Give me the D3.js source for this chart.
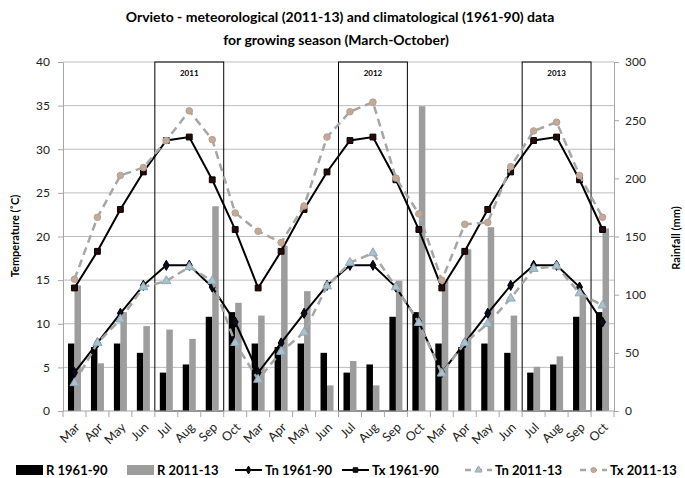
<!DOCTYPE html>
<html>
<head>
<meta charset="utf-8">
<script src="https://cdn.jsdelivr.net/npm/d3@7"></script>
<style>
  body { margin: 0; background: #fff; }
  text { font-family: Lato, "Open Sans", sans-serif; }
</style>
</head>
<body>
<div id="chart"></div>
<script>
// months of the growing season, repeated for each year
var months = ["Mar", "Apr", "May", "Jun", "Jul", "Aug", "Sep", "Oct"];
var years = ["2011", "2012", "2013"];

// rainfall (mm)
var rain6190 = [58, 55, 58, 50, 33, 40, 81, 85];
var rain1113 = [108, 41, 85, 73, 70, 62, 176, 93,
                82, 142, 103, 22, 43, 22, 112, 262,
                112, 139, 158, 82, 38, 47, 100, 157];

// temperature (°C)
var tn6190 = [4.4, 7.8, 11.2, 14.4, 16.7, 16.7, 14.2, 10.2];
var tx6190 = [14.1, 18.3, 23.1, 27.4, 31.0, 31.4, 26.5, 20.8];
var tn1113 = [3.2, 7.8, 10.5, 14.2, 14.9, 16.5, 14.9, 7.8,
              3.6, 6.8, 9.0, 14.3, 17.0, 18.1, 14.2, 10.1,
              4.3, 7.8, 10.0, 12.9, 16.3, 16.6, 13.5, 12.1];
var tx1113 = [15.1, 22.2, 27.0, 27.9, 31.0, 34.4, 31.1, 22.7,
              20.6, 19.3, 23.5, 31.4, 34.3, 35.4, 26.7, 22.6,
              15.0, 21.4, 21.6, 28.0, 32.1, 33.1, 27.0, 22.2];

var tempTicks = [0, 5, 10, 15, 20, 25, 30, 35, 40];
var rainTicks = [0, 50, 100, 150, 200, 250, 300];

// build the 24 rows
var rows = [];
years.forEach(function (yr, k) {
	months.forEach(function (m, j) {
		var i = k * 8 + j;
		rows.push({
			i: i, year: yr, month: m,
			r6190: rain6190[j], r1113: rain1113[i],
			tn6190: tn6190[j], tx6190: tx6190[j],
			tn1113: tn1113[i], tx1113: tx1113[i]
		});
	});
});

var W = 685, H = 478;
var pL = 63, pR = 614, pT = 62, pB = 411;

var svg = d3.select("#chart").append("svg")
	.attr("width", W)
	.attr("height", H);

var x = d3.scaleBand()
	.domain(rows.map(function (d) { return d.i; }))
	.range([pL, pR]);

var xSub = d3.scaleBand()
	.domain(["r6190", "r1113"])
	.range([0, 13]);

var yT = d3.scaleLinear().domain([0, 40]).range([pB, pT]);
var yR = d3.scaleLinear().domain([0, 300]).range([pB, pT]);

// title
svg.append("text")
	.attr("x", 340).attr("y", 22)
	.attr("text-anchor", "middle")
	.style("font-size", "14px").style("font-weight", "bold")
	.text("Orvieto - meteorological (2011-13)  and climatological (1961-90) data");
svg.append("text")
	.attr("x", 336).attr("y", 45)
	.attr("text-anchor", "middle")
	.style("font-size", "14px").style("font-weight", "bold")
	.text("for growing season (March-October)");

// gridlines
svg.append("g")
	.selectAll("line")
	.data(tempTicks.slice(1))
	.enter().append("line")
	.attr("x1", pL).attr("x2", pR)
	.attr("y1", function (d) { return yT(d); })
	.attr("y2", function (d) { return yT(d); })
	.style("stroke", "#bdbdbd")
	.style("stroke-width", 1);

// left axis
var axL = svg.append("g")
	.attr("transform", "translate(" + pL + ",0)")
	.call(d3.axisLeft(yT).tickValues(tempTicks).tickSize(5).tickSizeOuter(0).tickPadding(8));
// right axis
var axR = svg.append("g")
	.attr("transform", "translate(" + pR + ",0)")
	.call(d3.axisRight(yR).tickValues(rainTicks).tickSize(5).tickSizeOuter(0).tickPadding(6));

[axL, axR].forEach(function (ax) {
	ax.select(".domain").style("stroke", "#a6a6a6");
	ax.selectAll(".tick line").style("stroke", "#a6a6a6");
	ax.selectAll(".tick text")
		.style("font-family", "Lato, sans-serif")
		.style("font-size", "12px")
		.style("fill", "#222");
});

// year boxes (Jul-Sep)
var boxes = svg.append("g");
years.forEach(function (yr, k) {
	var x0 = x(k * 8 + 4), x1 = x(k * 8 + 6) + x.bandwidth();
	boxes.append("rect")
		.attr("x", x0).attr("y", pT)
		.attr("width", x1 - x0).attr("height", pB - pT)
		.style("fill", "none")
		.style("stroke", "#000")
		.style("stroke-width", 1);
	boxes.append("text")
		.attr("x", (x0 + x1) / 2).attr("y", 76)
		.attr("text-anchor", "middle")
		.style("font-size", "8px").style("font-weight", "bold")
		.text(yr);
});

// bars
var bar = svg.append("g").selectAll("g")
	.data(rows)
	.enter().append("g")
	.attr("transform", function (d) {
		return "translate(" + (x(d.i) + x.bandwidth() / 2 - 6.5) + ",0)";
	});
bar.append("rect")
	.attr("x", xSub("r6190"))
	.attr("width", xSub.bandwidth())
	.attr("y", function (d) { return yR(d.r6190); })
	.attr("height", function (d) { return pB - yR(d.r6190); })
	.style("fill", "#000");
bar.append("rect")
	.attr("x", xSub("r1113"))
	.attr("width", xSub.bandwidth())
	.attr("y", function (d) { return yR(d.r1113); })
	.attr("height", function (d) { return pB - yR(d.r1113); })
	.style("fill", "#9d9d9d");

// x axis line + ticks between categories
svg.append("line")
	.attr("x1", pL).attr("x2", pR)
	.attr("y1", pB).attr("y2", pB)
	.style("stroke", "#a6a6a6");
svg.append("g").selectAll("line")
	.data(rows.map(function (d) { return x(d.i); }).concat([pR]))
	.enter().append("line")
	.attr("x1", function (d) { return d; }).attr("x2", function (d) { return d; })
	.attr("y1", pB).attr("y2", pB + 6)
	.style("stroke", "#a6a6a6");

svg.append("g").selectAll("text")
	.data(rows)
	.enter().append("text")
	.attr("transform", function (d) {
		return "translate(" + (x(d.i) + x.bandwidth() / 2 + 3) + "," + (pB + 14) + ") rotate(-45)";
	})
	.attr("text-anchor", "end")
	.attr("dy", "0.35em")
	.style("font-size", "12.5px")
	.style("fill", "#222")
	.text(function (d) { return d.month; });

// axis titles
svg.append("text")
	.attr("transform", "translate(19,236) rotate(-90)")
	.attr("text-anchor", "middle")
	.style("font-size", "11px").style("font-weight", "bold")
	.text("Temperature (˚C)");
svg.append("text")
	.attr("transform", "translate(680,238) rotate(-90)")
	.attr("text-anchor", "middle")
	.style("font-size", "11px").style("font-weight", "bold")
	.text("Rainfall (mm)");

// line series
var series = [
	{ key: "tn6190", stroke: "#000", dash: null, width: 2, sym: d3.symbolDiamond, size: 30, fill: "#0b0b1e", mstroke: "#000" },
	{ key: "tx6190", stroke: "#000", dash: null, width: 2, sym: d3.symbolSquare, size: 34, fill: "#2a0808", mstroke: "#000" },
	{ key: "tn1113", stroke: "#a6a6a6", dash: "8,5", width: 2.5, sym: d3.symbolTriangle, size: 36, fill: "#a9c2cd", mstroke: "#8fa9b5" },
	{ key: "tx1113", stroke: "#a6a6a6", dash: "8,5", width: 2.5, sym: d3.symbolCircle, size: 34, fill: "#c3aa98", mstroke: "#b89e8c" }
];

var line = d3.line();

series.forEach(function (s) {
	var g = svg.append("g");
	g.append("path")
		.datum(rows)
		.attr("d", line.x(function (d) { return x(d.i) + x.bandwidth() / 2; })
			.y(function (d) { return yT(d[s.key]); }))
		.style("fill", "none")
		.style("stroke", s.stroke)
		.style("stroke-width", s.width)
		.style("stroke-dasharray", s.dash);
	g.selectAll("path.m")
		.data(rows)
		.enter().append("path")
		.attr("class", "m")
		.attr("transform", function (d) {
			return "translate(" + (x(d.i) + x.bandwidth() / 2) + "," + yT(d[s.key]) + ")";
		})
		.attr("d", d3.symbol().type(s.sym).size(s.size))
		.style("fill", s.fill)
		.style("stroke", s.mstroke)
		.style("stroke-width", 1);
});

// legend
var ly = 470;
var leg = svg.append("g");
var legItems = [
	{ label: "R 1961-90", kind: "bar", fill: "#000", x: 16 },
	{ label: "R 2011-13", kind: "bar", fill: "#9d9d9d", x: 127 },
	{ label: "Tn 1961-90", kind: "line", s: series[0], x: 235 },
	{ label: "Tx 1961-90", kind: "line", s: series[1], x: 342 },
	{ label: "Tn 2011-13", kind: "line", s: series[2], x: 465 },
	{ label: "Tx 2011-13", kind: "line", s: series[3], x: 580 }
];
legItems.forEach(function (it) {
	if (it.kind == "bar") {
		leg.append("rect")
			.attr("x", it.x).attr("y", ly - 5)
			.attr("width", 27).attr("height", 10)
			.style("fill", it.fill);
	} else {
		leg.append("line")
			.attr("x1", it.x).attr("x2", it.x + 27)
			.attr("y1", ly).attr("y2", ly)
			.style("stroke", it.s.stroke)
			.style("stroke-width", it.s.width)
			.style("stroke-dasharray", it.s.dash ? "6,5" : null);
		leg.append("path")
			.attr("transform", "translate(" + (it.x + 13.5) + "," + ly + ")")
			.attr("d", d3.symbol().type(it.s.sym).size(it.s.size * 0.6))
			.style("fill", it.s.fill)
			.style("stroke", it.s.mstroke);
	}
	leg.append("text")
		.attr("x", it.x + 30).attr("y", ly)
		.attr("dy", "0.35em")
		.style("font-size", "13px").style("font-weight", "bold")
		.text(it.label);
});
</script>
</body>
</html>
